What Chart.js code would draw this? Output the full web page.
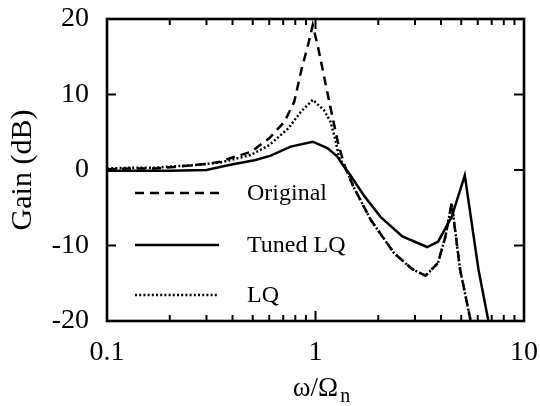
<!DOCTYPE html>
<html>
<head>
<meta charset="utf-8">
<script src="https://cdn.jsdelivr.net/npm/chart.js@4/dist/chart.umd.min.js"></script>
<style>
  html, body { margin: 0; padding: 0; background: #fff; }
  canvas { display: block; }
</style>
</head>
<body>
<canvas id="gain" width="540" height="406"></canvas>
<script>
// frequency ratio and gain (dB) for each controller
const origFreq  = [0.1, 0.13, 0.17, 0.21, 0.25, 0.3, 0.35, 0.39, 0.49, 0.6, 0.71, 0.79, 0.86, 0.92, 0.97, 1.03, 1.12, 1.2, 1.29, 1.39, 1.52, 1.84, 2.38, 2.9, 3.37, 3.87, 4.2, 4.5, 4.94, 5.55];
const origGain  = [0.1, 0.2, 0.2, 0.4, 0.6, 0.8, 1.1, 1.55, 2.4, 4.2, 6.4, 9.0, 13.5, 16.5, 19.2, 16.2, 11.3, 7.3, 3.3, 0.3, -2.2, -6.6, -11.0, -13.1, -14.0, -12.3, -8.8, -4.4, -13.2, -20];

const tunedFreq = [0.1, 0.2, 0.3, 0.39, 0.51, 0.61, 0.76, 0.97, 1.14, 1.27, 1.35, 1.47, 1.7, 2.05, 2.61, 3.43, 3.87, 4.5, 5.2, 6.05, 6.75];
const tunedGain = [-0.1, -0.1, 0.0, 0.7, 1.3, 1.9, 3.1, 3.75, 2.9, 1.8, 0.7, -0.7, -3.3, -6.2, -8.8, -10.2, -9.5, -6.2, -0.7, -13.2, -20];

const lqFreq    = [0.1, 0.13, 0.17, 0.21, 0.25, 0.3, 0.35, 0.39, 0.49, 0.6, 0.74, 0.85, 0.97, 1.1, 1.18, 1.24, 1.3, 1.39, 1.52, 1.84, 2.38, 2.9, 3.37, 3.87, 4.2, 4.5, 4.94, 5.55];
const lqGain    = [0.2, 0.3, 0.3, 0.5, 0.6, 0.8, 1.0, 1.3, 2.0, 3.3, 5.5, 7.7, 9.3, 7.9, 6.4, 4.2, 1.6, 0.3, -2.2, -6.6, -11.0, -13.1, -14.0, -12.3, -8.8, -4.4, -13.2, -20];

const seriesNames = ['Original', 'Tuned LQ', 'LQ'];
const xTickValues = [0.1, 1, 10];
const xMinorTicks = [0.2, 0.3, 0.4, 0.5, 0.6, 0.7, 0.8, 0.9, 2, 3, 4, 5, 6, 7, 8, 9];
const yTickValues = [-20, -10, 0, 10, 20];

const FONT = '"Liberation Serif", "Times New Roman", serif';
const INK = '#000';

const toPoints = (xs, ys) => xs.map((x, i) => ({ x: x, y: ys[i] }));

const styles = [
  { dash: [9, 6] },
  { dash: [] },
  { dash: [2, 2.2] }
];

// keep tick labels from pushing the plot area inwards
const noLabelPadding = s => {
  s.paddingTop = 0; s.paddingBottom = 0;
  s.paddingLeft = 0; s.paddingRight = 0;
};

// inward tick marks, plot frame, legend and x-axis title
const decorations = {
  id: 'decorations',
  afterDatasetsDraw(chart) {
    const { ctx, chartArea: a, scales } = chart;
    const xs = scales.x, ys = scales.y;
    ctx.save();
    ctx.strokeStyle = INK;
    ctx.lineCap = 'butt';

    ctx.lineWidth = 2;
    xMinorTicks.forEach(v => {
      const px = xs.getPixelForValue(v);
      ctx.beginPath();
      ctx.moveTo(px, a.bottom); ctx.lineTo(px, a.bottom - 6);
      ctx.moveTo(px, a.top); ctx.lineTo(px, a.top + 6);
      ctx.stroke();
    });
    [1].forEach(v => {
      const px = xs.getPixelForValue(v);
      ctx.beginPath();
      ctx.moveTo(px, a.bottom); ctx.lineTo(px, a.bottom - 10);
      ctx.moveTo(px, a.top); ctx.lineTo(px, a.top + 10);
      ctx.stroke();
    });
    yTickValues.slice(1, -1).forEach(v => {
      const py = ys.getPixelForValue(v);
      ctx.beginPath();
      ctx.moveTo(a.left, py); ctx.lineTo(a.left + 9, py);
      ctx.moveTo(a.right, py); ctx.lineTo(a.right - 10, py);
      ctx.stroke();
    });

    ctx.lineWidth = 2.6;
    ctx.strokeRect(a.left, a.top, a.right - a.left, a.bottom - a.top);

    // legend inside the plot
    const rows = [174, 226, 276];
    ctx.font = '24px ' + FONT;
    ctx.fillStyle = INK;
    ctx.textBaseline = 'middle';
    ctx.textAlign = 'left';
    seriesNames.forEach((name, i) => {
      const y = a.top + rows[i];
      ctx.lineWidth = 2.4;
      ctx.setLineDash(styles[i].dash);
      ctx.beginPath();
      ctx.moveTo(a.left + 28, y);
      ctx.lineTo(a.left + 112, y);
      ctx.stroke();
      ctx.setLineDash([]);
      ctx.fillText(name, a.left + 140, y + 1);
    });

    // x-axis title with subscript n
    const main = 'ω/Ω', sub = 'n';
    ctx.font = '27px ' + FONT;
    const wMain = ctx.measureText(main).width;
    ctx.font = '20px ' + FONT;
    const wSub = ctx.measureText(sub).width;
    const cx = (a.left + a.right) / 2 + 6;
    const x0 = cx - (wMain + wSub + 2) / 2;
    ctx.textBaseline = 'alphabetic';
    ctx.font = '27px ' + FONT;
    ctx.fillText(main, x0, 396);
    ctx.font = '20px ' + FONT;
    ctx.fillText(sub, x0 + wMain + 2, 402);
    ctx.restore();
  }
};

const datasets = [
  toPoints(origFreq, origGain),
  toPoints(tunedFreq, tunedGain),
  toPoints(lqFreq, lqGain)
].map((pts, i) => ({
  label: seriesNames[i],
  data: pts,
  borderColor: INK,
  borderWidth: 2.5,
  borderDash: styles[i].dash,
  pointRadius: 0,
  tension: 0,
  fill: false
}));

new Chart(document.getElementById('gain'), {
  type: 'line',
  data: { datasets: datasets },
  options: {
    responsive: false,
    animation: false,
    devicePixelRatio: 1,
    layout: { padding: { top: 19, right: 16, left: 0, bottom: 0 } },
    plugins: { legend: { display: false }, tooltip: { enabled: false } },
    scales: {
      x: {
        type: 'logarithmic',
        min: 0.1,
        max: 10,
        afterBuildTicks: s => { s.ticks = xTickValues.map(v => ({ value: v })); },
        afterFit: s => { s.height = 85; noLabelPadding(s); },
        grid: { display: false, drawTicks: false },
        border: { display: false },
        ticks: {
          color: INK,
          font: { family: FONT, size: 28 },
          padding: 15,
          maxRotation: 0,
          autoSkip: false,
          callback: v => String(v)
        }
      },
      y: {
        min: -20,
        max: 20,
        afterBuildTicks: s => { s.ticks = yTickValues.map(v => ({ value: v })); },
        afterFit: s => { s.width = 107; noLabelPadding(s); },
        grid: { display: false, drawTicks: false },
        border: { display: false },
        ticks: {
          color: INK,
          font: { family: FONT, size: 28 },
          padding: 18
        },
        title: {
          display: true,
          text: 'Gain (dB)',
          color: INK,
          font: { family: FONT, size: 30 },
          padding: { top: 5, bottom: 0 }
        }
      }
    }
  },
  plugins: [decorations]
});
</script>
</body>
</html>
